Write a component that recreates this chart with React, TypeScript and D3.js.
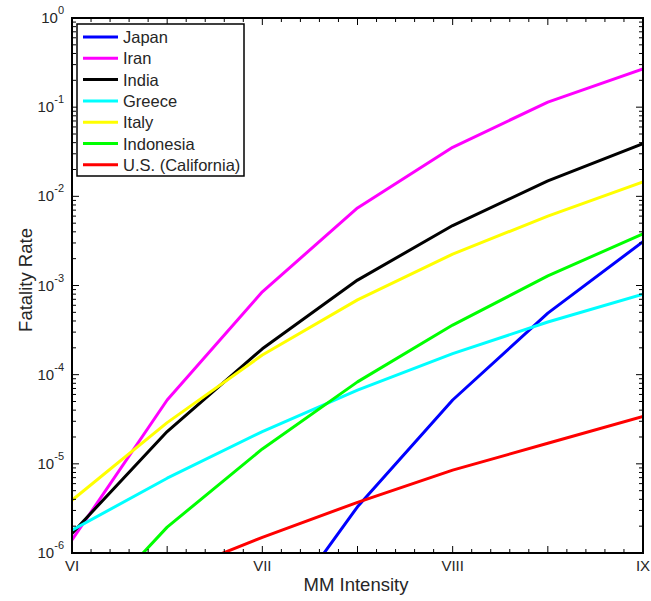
import React, { useEffect, useRef } from "react";
import * as d3 from "d3";

const intensities = [6, 6.5, 7, 7.5, 8, 8.5, 9];
const intensityLabels = ["VI", "VII", "VIII", "IX"];

const japan = [null, null, 1.1e-7, 3.3e-6, 5.2e-5, 4.9e-4, 3.1e-3];
const iran = [1.4e-6, 5.2e-5, 8.5e-4, 7.4e-3, 0.0355, 0.114, 0.268];
const india = [1.66e-6, 2.3e-5, 1.95e-4, 1.15e-3, 4.7e-3, 0.0149, 0.039];
const greece = [1.8e-6, 6.9e-6, 2.3e-5, 6.7e-5, 1.72e-4, 3.9e-4, 8.0e-4];
const italy = [3.9e-6, 2.9e-5, 1.66e-4, 6.9e-4, 2.25e-3, 6.0e-3, 0.0145];
const indonesia = [1.4e-7, 1.95e-6, 1.47e-5, 8.3e-5, 3.6e-4, 1.28e-3, 3.8e-3];
const california = [null, 5.6e-7, 1.5e-6, 3.7e-6, 8.5e-6, 1.7e-5, 3.4e-5];

const seriesNames = ["Japan", "Iran", "India", "Greece", "Italy", "Indonesia", "U.S. (California)"];
const seriesValues = [japan, iran, india, greece, italy, indonesia, california];
const seriesColors = ["#0000ff", "#ff00ff", "#000000", "#00ffff", "#ffff00", "#00ff00", "#ff0000"];

const FONT = "'Liberation Sans', Arial, Helvetica, sans-serif";

const Chart = () => {
  const ref = useRef<SVGSVGElement>(null);

  useEffect(() => {
    const svg = d3.select(ref.current);
    svg.selectAll("*").remove();

    const margin = { top: 18, right: 8, bottom: 48, left: 72 };
    const width = 651;
    const height = 601;
    const x0 = margin.left;
    const x1 = width - margin.right;
    const y0 = height - margin.bottom;
    const y1 = margin.top;

    const x = d3.scaleLinear().domain([6, 9]).range([x0, x1]);
    const y = d3.scaleLog().domain([1e-6, 1]).range([y0, y1]);

    svg.append("defs").append("clipPath").attr("id", "plotclip")
      .append("rect").attr("x", x0).attr("y", y1).attr("width", x1 - x0).attr("height", y0 - y1);

    // lines
    const line = d3.line<[number, number | null]>()
      .defined((d) => d[1] != null)
      .x((d) => x(d[0]))
      .y((d) => y(d[1] as number));

    const g = svg.append("g").attr("clip-path", "url(#plotclip)");
    seriesValues.forEach((vals, i) => {
      g.append("path")
        .datum(intensities.map((t, j) => [t, vals[j]] as [number, number | null]))
        .attr("d", line)
        .attr("fill", "none")
        .attr("stroke", seriesColors[i])
        .attr("stroke-width", 3)
        .attr("stroke-linejoin", "round");
    });

    // ticks
    const ticks = svg.append("g").attr("stroke", "#000").attr("stroke-width", 1);
    const xMinor = d3.range(60, 91).map((v) => v / 10);
    xMinor.forEach((v) => {
      const major = Math.abs(v * 2 - Math.round(v * 2)) < 1e-6;
      const len = major ? 7 : 4;
      ticks.append("line").attr("x1", x(v)).attr("x2", x(v)).attr("y1", y0).attr("y2", y0 - len);
      ticks.append("line").attr("x1", x(v)).attr("x2", x(v)).attr("y1", y1).attr("y2", y1 + len);
    });
    for (let e = -6; e <= 0; e++) {
      for (let m = 1; m <= 9; m++) {
        const v = m * Math.pow(10, e);
        if (v > 1) continue;
        const len = m === 1 ? 7 : 4;
        ticks.append("line").attr("x1", x0).attr("x2", x0 + len).attr("y1", y(v)).attr("y2", y(v));
        ticks.append("line").attr("x1", x1).attr("x2", x1 - len).attr("y1", y(v)).attr("y2", y(v));
      }
    }

    // box
    svg.append("rect")
      .attr("x", x0).attr("y", y1).attr("width", x1 - x0).attr("height", y0 - y1)
      .attr("fill", "none").attr("stroke", "#000").attr("stroke-width", 2);

    // y tick labels
    for (let e = -6; e <= 0; e++) {
      const t = svg.append("text")
        .attr("x", x0 - 8).attr("y", y(Math.pow(10, e)) + 5)
        .attr("text-anchor", "end")
        .attr("font-family", FONT).attr("font-size", 15).attr("fill", "#262626");
      t.append("tspan").text("10");
      t.append("tspan").attr("dy", -9).attr("font-size", 11).text(String(e));
    }

    // x tick labels
    intensityLabels.forEach((lab, i) => {
      svg.append("text")
        .attr("x", x(6 + i)).attr("y", y0 + 18)
        .attr("text-anchor", "middle")
        .attr("font-family", FONT).attr("font-size", 15).attr("fill", "#262626")
        .text(lab);
    });

    // axis titles
    svg.append("text")
      .attr("x", 356).attr("y", y0 + 38)
      .attr("text-anchor", "middle")
      .attr("font-family", FONT).attr("font-size", 18.5).attr("fill", "#262626")
      .text("MM Intensity");
    svg.append("text")
      .attr("transform", `translate(32,${280}) rotate(-90)`)
      .attr("text-anchor", "middle")
      .attr("font-family", FONT).attr("font-size", 18.5).attr("fill", "#262626")
      .text("Fatality Rate");

    // legend
    const lg = svg.append("g");
    lg.append("rect")
      .attr("x", 77).attr("y", 24).attr("width", 167).attr("height", 152)
      .attr("fill", "#fff").attr("stroke", "#000").attr("stroke-width", 1.5);
    seriesNames.forEach((name, i) => {
      const yy = 37 + i * 21.3;
      lg.append("line")
        .attr("x1", 83).attr("x2", 118).attr("y1", yy).attr("y2", yy)
        .attr("stroke", seriesColors[i]).attr("stroke-width", 3);
      lg.append("text")
        .attr("x", 123).attr("y", yy + 6)
        .attr("font-family", FONT).attr("font-size", 16.5).attr("fill", "#262626")
        .text(name);
    });
  }, []);

  return <svg ref={ref} width={651} height={601} style={{ display: "block" }} />;
};

export default function App() {
  return (
    <div style={{ position: "absolute", left: 0, top: 0 }}>
      <Chart />
    </div>
  );
}
